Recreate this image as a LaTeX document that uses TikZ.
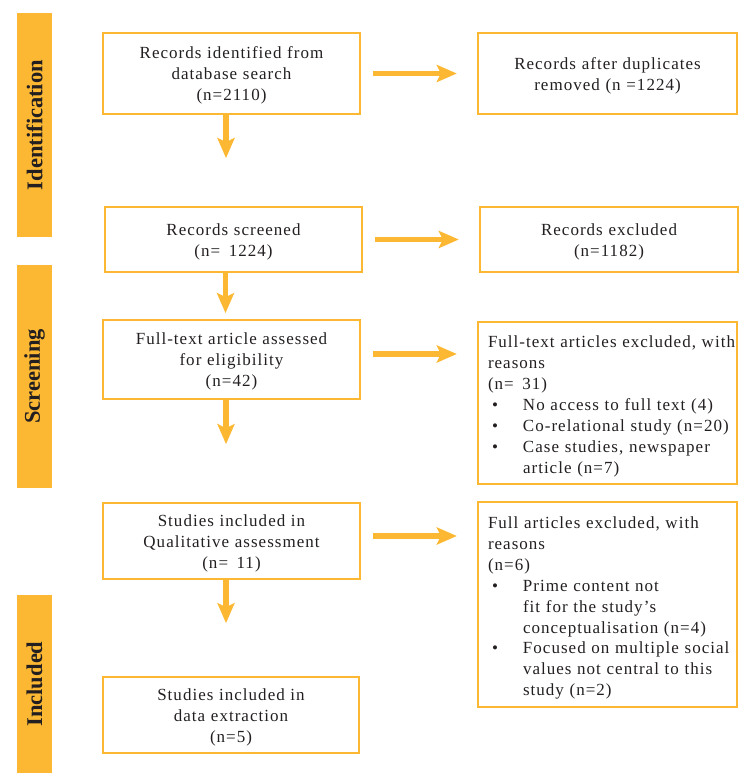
\documentclass[tikz,border=0pt]{standalone}
\usepackage{fontspec}
\setmainfont{Liberation Serif}[LetterSpace=6]
\newfontfamily\labfont{Liberation Serif}
\usetikzlibrary{arrows.meta}
\definecolor{orng}{RGB}{252,184,51}
\definecolor{ink}{RGB}{35,31,32}
\newcommand\pline[1]{\mbox{#1}}
\newcommand\bitem[1]{\mbox{\hspace*{4pt}\makebox[31pt][l]{\textbullet}#1}}
\newcommand\bcont[1]{\mbox{\hspace*{35pt}#1}}
\begin{document}
\begin{tikzpicture}[x=1pt,y=-1pt,
  box/.style={draw=orng,line width=2.3pt,inner sep=0pt,align=center,text=ink,
    text width=230pt,execute at begin node={\rule{0pt}{16pt}},
    font=\fontsize{17}{20.9}\selectfont},
  lbox/.style={draw=orng,line width=2.3pt,align=left,text=ink,
    text width=239pt,inner xsep=10pt,inner ysep=0pt,
    execute at begin node={\rule{0pt}{19pt}},
    font=\fontsize{17}{20.9}\selectfont},
  bar/.style={fill=orng,inner sep=0pt,rotate=90,minimum height=35pt,text=ink,
    font=\labfont\bfseries\fontsize{22.5}{27}\selectfont},
  arr/.style={draw=orng,line width=5.5pt,-{Stealth[length=20pt,width=17pt,inset=4pt]}}
]
\useasboundingbox (0,0) rectangle (754,784);

% phase bars
\node[bar,minimum width=224pt] (bid) at (34.5,125) {Identification};
\node[bar,minimum width=223pt] (bsc) at (34.5,376.5) {Screening};
\node[bar,minimum width=178pt] (bin) at (34.5,684) {Included};

% boxes
\node[box,minimum width=257pt,minimum height=81pt] (b1) at (231.5,73.5)
  {Records identified from\\database search\\(n=2110)};
\node[box,minimum width=259pt,minimum height=81pt] (b2) at (607.5,73.5)
  {Records after duplicates\\removed (n =1224)};
\node[box,minimum width=257pt,minimum height=65pt] (b3) at (233.5,239.5)
  {Records screened\\(n=\enspace1224)};
\node[box,minimum width=258pt,minimum height=65pt] (b4) at (609,239.5)
  {Records excluded\\(n=1182)};
\node[box,minimum width=257pt,minimum height=79pt] (b5) at (231.5,359.5)
  {Full-text article assessed\\for eligibility\\(n=42)};
\node[lbox,minimum height=162pt] (b6) at (607.5,403)
  {\pline{Full-text articles excluded, with}\\
   \pline{reasons}\\
   \pline{(n=\enspace31)}\\
   \bitem{No access to full text (4)}\\
   \bitem{Co-relational study (n=20)}\\
   \bitem{Case studies, newspaper}\\
   \bcont{article (n=7)}};
\node[box,minimum width=257pt,minimum height=76pt] (b7) at (231.5,541)
  {Studies included in\\Qualitative assessment\\(n=\enspace11)};
\node[lbox,minimum height=205pt] (b8) at (607.5,604.5)
  {\pline{Full articles excluded, with}\\
   \pline{reasons}\\
   \pline{(n=6)}\\
   \bitem{Prime content not}\\
   \bcont{fit for the study's}\\
   \bcont{conceptualisation (n=4)}\\
   \bitem{Focused on multiple social}\\
   \bcont{values not central to this}\\
   \bcont{study (n=2)}};
\node[box,minimum width=256pt,minimum height=76pt] (b9) at (231,715)
  {Studies included in\\data extraction\\(n=5)};

% horizontal arrows
\draw[arr,shorten <=12pt,shorten >=20pt] (b1.east) -- (b2.west);
\draw[arr,shorten <=12pt,shorten >=20pt] (b3.east) -- (b4.west);
\coordinate (h3) at ([yshift=5.5pt]b5.east);
\draw[arr,shorten <=12pt,shorten >=20pt] (h3) -- (h3 -| b6.west);
\coordinate (h4) at ([yshift=5pt]b7.east);
\draw[arr,shorten <=12pt,shorten >=20pt] (h4) -- (h4 -| b8.west);

% vertical arrows
\draw[arr] ([xshift=-5.5pt]b1.south) -- ++(0,43) coordinate (d1);
\draw[arr] ([xshift=-8pt]b3.south) -- ++(0,40) coordinate (d2);
\draw[arr] ([xshift=-5.5pt]b5.south) -- ++(0,44) coordinate (d3);
\draw[arr] ([xshift=-5.5pt]b7.south) -- ++(0,43) coordinate (d4);
\end{tikzpicture}
\end{document}
